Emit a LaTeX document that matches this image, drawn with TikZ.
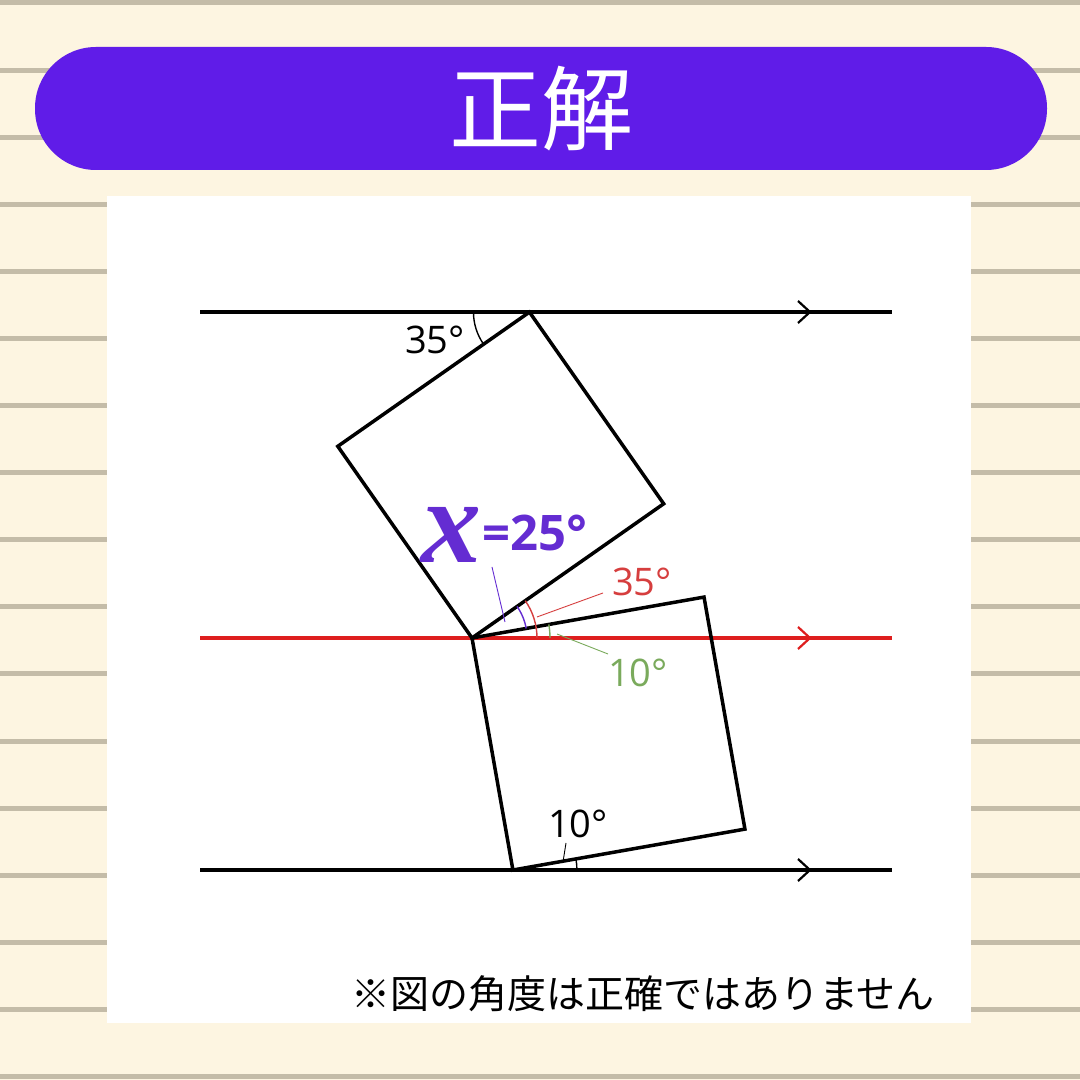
\documentclass[tikz,border=0pt]{standalone}
\usepackage{fontspec}
\setmainfont{Open Sans}
\newfontfamily\jpfont{Noto Sans CJK JP}
\newfontfamily\varfont{Liberation Serif}
\definecolor{paper}{RGB}{253,245,225}
\definecolor{ruling}{RGB}{196,188,168}
\definecolor{banner}{RGB}{96,28,232}
\definecolor{ansred}{RGB}{222,30,30}
\definecolor{labred}{RGB}{214,62,62}
\definecolor{labgreen}{RGB}{122,170,92}
\definecolor{labpurple}{RGB}{100,44,210}

\begin{document}
\begin{tikzpicture}[x=1pt,y=1pt,
    parline/.style={line width=3.5pt},
    sqline/.style={line width=3.5pt, line join=miter},
    chev/.style={line width=2.2pt},
    anglearc/.style={line width=1.4pt},
    leader/.style={line width=0.9pt},
    deglabel/.style={font=\fontsize{38}{38}\selectfont, inner sep=0pt}]
    % Paper and ruling
    \fill[paper] (0,0) rectangle (1080,1080);
    \useasboundingbox (0,0) rectangle (1080,1080);
    \foreach \k in {0,...,16}
        \fill[ruling] (0,1077-67.1*\k-2.5) rectangle (1080,1077-67.1*\k+2.5);

    % Title banner
    \node[fill=banner, rounded corners=61pt, minimum width=1012pt, minimum height=123pt,
          text=white, inner sep=0pt] (title) at (541,971.5)
          {\jpfont\fontsize{92}{92}\selectfont 正解};

    % White panel
    \fill[white] (107,57) rectangle (971,884);

    % Parallel lines
    \coordinate (top1) at (200,768);  \coordinate (top2) at (892,768);
    \coordinate (mid1) at (200,442);  \coordinate (mid2) at (892,442);
    \coordinate (bot1) at (200,210);  \coordinate (bot2) at (892,210);
    \draw[parline] (top1) -- (top2);
    \draw[parline] (bot1) -- (bot2);
    \draw[parline, ansred] (mid1) -- (mid2);

    % -- arrow marks
    \draw[chev] (798,779) -- (810,768) -- (798,757);
    \draw[chev] (798,221) -- (810,210) -- (798,199);
    \draw[chev, ansred] (798,453) -- (810,442) -- (798,431);

    % Upper square
    \coordinate (P) at (472,442);
    \draw[sqline] (P) -- ++(35:234) coordinate (R) -- ++(125:234) coordinate (T)
        -- ++(215:234) coordinate (L) -- cycle;

    % Lower square
    \draw[sqline] (P) -- ++(10:235.6) coordinate (U) -- ++(-80:235.6) coordinate (V)
        -- ++(190:235.6) coordinate (W) -- cycle;

    % Angle arcs
    \draw[anglearc] (T) ++(180:56) arc[start angle=180, end angle=215, radius=56];
    \draw[anglearc, labred] (P) ++(0:65) arc[start angle=0, end angle=35, radius=65];
    \draw[anglearc, labpurple] (P) ++(10:55) arc[start angle=10, end angle=35, radius=55];
    \draw[anglearc, labgreen] (P) ++(0:78) arc[start angle=0, end angle=10, radius=78];
    \draw[anglearc] (W) ++(0:64) arc[start angle=0, end angle=10, radius=64];

    % Labels
    \node[deglabel] (a35) at (435,740) {35°};
    \node[deglabel, text=labred] (r35) at (642,498) {35°};
    \node[deglabel, text=labgreen] (g10) at (638,407) {10°};
    \node[deglabel] (b10) at (578,256) {10°};
    \node[text=labpurple, inner sep=0pt, font=\varfont\bfseries\itshape\fontsize{120}{120}\selectfont]
        (xvar) at (451,545) {x};
    \node[text=labpurple, inner sep=0pt, font=\bfseries\fontsize{49}{49}\selectfont]
        (xval) at (535,547) {=25°};

    % Leaders
    \coordinate (xl1) at (492,513); \coordinate (xl2) at (505,458);
    \coordinate (rl1) at (537,463); \coordinate (rl2) at (603,487);
    \coordinate (gl1) at (557,446); \coordinate (gl2) at (608,426);
    \coordinate (bl1) at (563,218); \coordinate (bl2) at (566,237);
    \draw[leader, labpurple] (xl1) -- (xl2);
    \draw[leader, labred] (rl1) -- (rl2);
    \draw[leader, labgreen] (gl1) -- (gl2);
    \draw[leader] (bl1) -- (bl2);

    % Footnote
    \node[inner sep=0pt] (note) at (643,86)
        {\jpfont\fontsize{39}{39}\selectfont ※図の角度は正確ではありません};
\end{tikzpicture}
\end{document}
